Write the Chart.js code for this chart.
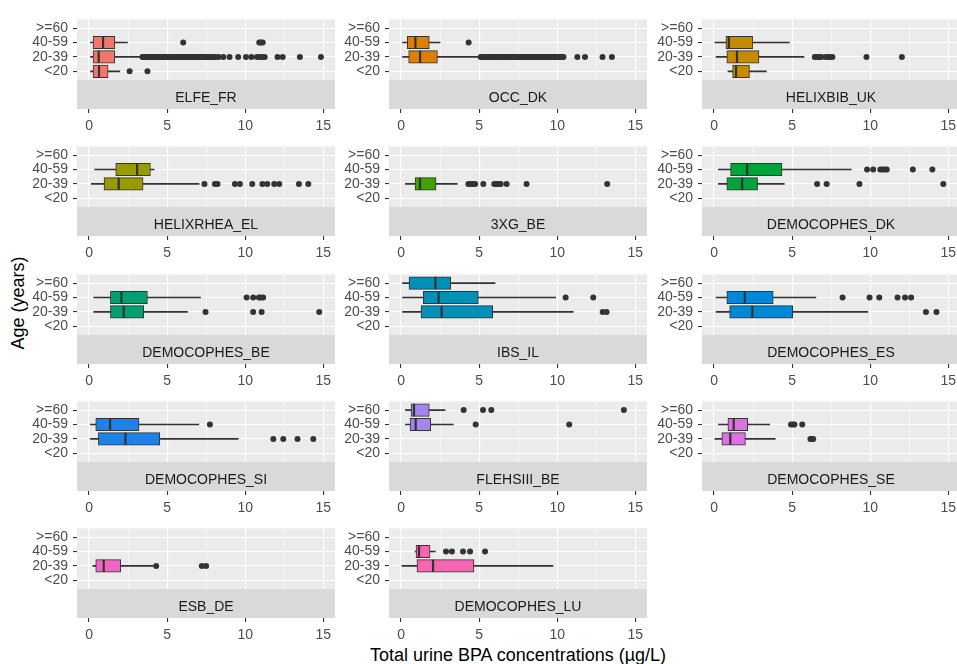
<!DOCTYPE html>
<html><head><meta charset="utf-8">
<script src="https://cdn.jsdelivr.net/npm/chart.js@4.4.0/dist/chart.umd.min.js"></script>
<style>
html,body{margin:0;padding:0;background:#fff;overflow:hidden;width:957px;height:664px;}
#wrap{position:relative;width:957px;height:664px;overflow:hidden;}
#wrap canvas{position:absolute;}
.ttl{position:absolute;font-family:'Liberation Sans',Arial,sans-serif;font-size:18px;color:#000;white-space:nowrap;}
#ytitle{left:18px;top:303px;transform:translate(-50%,-50%) rotate(-90deg);}
#xtitle{left:518px;top:655px;transform:translate(-50%,-50%);}
</style></head><body>
<div id="wrap">
<div class="ttl" id="ytitle">Age (years)</div>
<div class="ttl" id="xtitle">Total urine BPA concentrations (µg/L)</div>
</div>
<script>
// ---------------- data ----------------
const studies = ['ELFE_FR','OCC_DK','HELIXBIB_UK','HELIXRHEA_EL','3XG_BE','DEMOCOPHES_DK','DEMOCOPHES_BE','IBS_IL','DEMOCOPHES_ES','DEMOCOPHES_SI','FLEHSIII_BE','DEMOCOPHES_SE','ESB_DE','DEMOCOPHES_LU'];
const studyColors = ['#F4766A','#E07E00','#C48A00','#999A00','#42A300','#00A33C','#00A073','#0090B8','#0088D8','#1C82EA','#A385F2','#DE70E4','#F066C4','#F466B0'];
const ageGroups = ['<20','20-39','40-59','>=60'];
const xTicks = [0,2.5,5,7.5,10,12.5,15];
const xTickLabels = ['0','','5','','10','','15'];

const boxStudy = ['ELFE_FR','ELFE_FR','ELFE_FR','OCC_DK','OCC_DK','HELIXBIB_UK','HELIXBIB_UK','HELIXBIB_UK','HELIXRHEA_EL','HELIXRHEA_EL','3XG_BE','DEMOCOPHES_DK','DEMOCOPHES_DK','DEMOCOPHES_BE','DEMOCOPHES_BE','IBS_IL','IBS_IL','IBS_IL','DEMOCOPHES_ES','DEMOCOPHES_ES','DEMOCOPHES_SI','DEMOCOPHES_SI','FLEHSIII_BE','FLEHSIII_BE','DEMOCOPHES_SE','DEMOCOPHES_SE','ESB_DE','DEMOCOPHES_LU','DEMOCOPHES_LU'];
const boxAge = ['40-59','20-39','<20','40-59','20-39','40-59','20-39','<20','40-59','20-39','20-39','40-59','20-39','40-59','20-39','>=60','40-59','20-39','40-59','20-39','40-59','20-39','>=60','40-59','40-59','20-39','20-39','40-59','20-39'];
const whiskerLow  = [0.09,0.10,0.10,0.10,0.10,0.06,0.13,0.89,0.36,0.15,0.28,0.28,0.28,0.30,0.30,0.10,0.10,0.10,0.13,0.13,0.09,0.09,0.28,0.28,0.28,0.06,0.24,0.90,0.06];
const q1          = [0.26,0.26,0.26,0.40,0.49,0.76,0.82,1.19,1.71,0.96,0.90,1.06,0.82,1.37,1.37,0.51,1.43,1.28,0.82,1.00,0.43,0.60,0.64,0.58,0.89,0.50,0.43,0.96,1.02];
const median      = [0.90,0.62,0.64,0.92,1.22,0.95,1.47,1.41,3.08,1.90,1.22,2.12,1.80,2.07,2.22,2.20,2.41,2.60,1.97,2.45,1.35,2.33,0.83,0.94,1.26,1.04,0.94,1.15,2.05];
const q3          = [1.65,1.65,1.22,1.81,2.33,2.49,2.88,2.27,3.93,3.46,2.24,4.35,2.79,3.74,3.50,3.18,4.95,5.87,3.79,5.04,3.20,4.53,1.81,1.90,2.16,2.01,2.03,1.86,4.67];
const whiskerHigh = [2.46,3.35,1.97,2.50,5.06,4.83,5.76,3.35,4.17,7.05,3.60,8.79,4.50,7.14,6.30,6.02,9.90,11.03,6.52,9.85,7.03,9.55,2.82,3.35,3.57,3.92,4.10,2.20,9.73];
const outliers = [
  [6.03,10.9,11.0,11.12],
  [3.42,3.5,3.57,3.66,3.73,3.81,3.9,3.98,4.05,4.14,4.22,4.3,4.37,4.46,4.55,4.63,4.7,4.79,4.88,4.95,5.03,5.12,5.2,5.28,5.36,5.45,5.52,5.61,5.7,5.78,5.85,5.94,6.03,6.11,6.2,6.28,6.37,6.45,6.53,6.62,6.7,6.79,6.87,6.95,7.04,7.12,7.2,7.29,7.37,7.46,7.54,7.62,7.71,7.8,7.88,7.95,8.1,8.3,8.6,9.0,9.55,10.05,10.4,10.75,10.95,11.1,11.25,12.07,12.4,13.5,14.85],
  [2.6,3.74],
  [4.33],
  [5.1,5.18,5.27,5.35,5.44,5.52,5.6,5.69,5.78,5.86,5.95,6.03,6.12,6.2,6.29,6.38,6.46,6.55,6.63,6.72,6.8,6.89,6.98,7.06,7.15,7.23,7.32,7.4,7.49,7.58,7.66,7.75,7.83,7.92,8.0,8.09,8.18,8.26,8.35,8.43,8.52,8.6,8.69,8.78,8.86,8.95,9.03,9.12,9.2,9.29,9.38,9.46,9.55,9.63,9.72,9.8,9.89,9.98,10.06,10.15,10.23,10.32,10.4,11.29,11.78,12.9,13.5],
  [],
  [6.45,6.55,6.65,6.75,6.88,7.16,7.3,7.45,7.58,9.76,12.03],
  [],
  [],
  [7.39,8.06,8.23,9.34,9.66,10.45,11.1,11.41,11.86,12.18,13.44,14.04],
  [4.31,4.45,4.6,4.75,5.27,5.97,6.1,6.25,6.38,6.76,8.04,13.2],
  [9.8,10.19,10.65,10.8,10.95,11.06,12.73,13.98],
  [6.6,7.21,9.31,14.68],
  [10.09,10.51,10.88,11.0,11.15],
  [7.46,10.51,11.05,14.74],
  [],
  [10.54,12.31],
  [12.91,13.16],
  [8.23,9.96,10.58,11.75,12.23,12.62],
  [13.57,14.24],
  [7.74],
  [11.8,12.44,13.35,14.36],
  [4.01,5.25,5.78,14.27],
  [4.78,10.77],
  [4.93,5.05,5.15,5.65],
  [6.17,6.27,6.35],
  [4.3,7.22,7.5],
  [2.88,3.26,3.97,4.42,5.38],
  []
];

// ---------------- layout ----------------
const colPanelLeft = [77, 389, 702];
const rowPanelTop = [12, 139, 267, 394, 521];
const PANEL_W = 258, PANEL_H = 68, STRIP_H = 29, Y_W = 64, X_H = 28, PAD_T = 6, PAD_R = 14;
const XMIN = -0.77, XMAX = 15.75;
const FONT = "'Liberation Sans', Arial, sans-serif";
const TICK_FS = 14;
Chart.defaults.font.family = FONT;

const bgPlugin = {
  id: 'ggbg',
  beforeDraw(chart) {
    const ctx = chart.ctx, a = chart.chartArea, s = chart.scales.strip;
    ctx.save();
    ctx.fillStyle = '#EBEBEB';
    ctx.fillRect(a.left, a.top, a.right - a.left, a.bottom - a.top);
    ctx.fillStyle = '#D9D9D9';
    ctx.fillRect(s.left, s.top, s.right - s.left, s.bottom - s.top);
    ctx.restore();
  }
};

const wrap = document.getElementById('wrap');
studies.forEach((name, si) => {
  const row = Math.floor(si / 3), col = si % 3;
  const cv = document.createElement('canvas');
  cv.width = Y_W + PANEL_W + PAD_R;
  cv.height = PAD_T + PANEL_H + STRIP_H + X_H;
  cv.style.left = (colPanelLeft[col] - Y_W) + 'px';
  cv.style.top = (rowPanelTop[row] - PAD_T) + 'px';
  wrap.appendChild(cv);

  const idx = boxStudy.map((s, i) => s === name ? i : -1).filter(i => i >= 0);
  const yOf = a => ageGroups.indexOf(a) + 1;
  const whiskers = idx.map(i => ({ y: yOf(boxAge[i]), x: [whiskerLow[i], whiskerHigh[i]] }));
  const boxes = idx.map(i => ({ y: yOf(boxAge[i]), x: [q1[i], q3[i]] }));
  const meds = idx.map(i => ({ y: yOf(boxAge[i]), x: median[i] }));
  const outs = [];
  idx.forEach(i => outliers[i].forEach(v => outs.push({ y: yOf(boxAge[i]), x: v })));

  new Chart(cv, {
    type: 'bar',
    data: {
      datasets: [
        { type: 'bar', data: whiskers, order: 4, grouped: false, barThickness: 1, maxBarThickness: 1,
          backgroundColor: '#333333', borderWidth: 0, xAxisID: 'x', yAxisID: 'y' },
        { type: 'bar', data: boxes, order: 3, grouped: false, barThickness: 12.5, maxBarThickness: 12.5,
          backgroundColor: studyColors[si], borderColor: '#333333', borderWidth: 1, borderSkipped: false,
          xAxisID: 'x', yAxisID: 'y' },
        { type: 'scatter', data: meds, order: 2, pointStyle: 'line', rotation: 90, radius: 6.2,
          borderColor: '#333333', borderWidth: 2.2, xAxisID: 'x', yAxisID: 'y' },
        { type: 'scatter', data: outs, order: 1, pointStyle: 'circle', radius: 3,
          backgroundColor: '#333333', borderWidth: 0, xAxisID: 'x', yAxisID: 'y' }
      ]
    },
    options: {
      indexAxis: 'y',
      responsive: false,
      devicePixelRatio: 1,
      animation: false,
      events: [],
      layout: { autoPadding: false, padding: { top: PAD_T, right: PAD_R, left: 0, bottom: 0 } },
      plugins: { legend: { display: false }, tooltip: { enabled: false }, title: { display: false } },
      scales: {
        x: {
          type: 'linear', position: 'bottom', weight: 1, min: XMIN, max: XMAX,
          afterBuildTicks: s => { s.ticks = xTicks.map(v => ({ value: v })); },
          afterFit: s => { s.height = X_H; },
          ticks: { autoSkip: false, maxRotation: 0, minRotation: 0, padding: 5, color: '#4D4D4D',
                   font: { size: TICK_FS, family: FONT },
                   callback: (v) => xTickLabels[xTicks.indexOf(v)] },
          grid: { color: '#FFFFFF', drawTicks: true, tickLength: 4,
                  lineWidth: c => (c.tick && c.tick.value % 5 === 0) ? 1.1 : 0.55,
                  tickColor: c => (c.tick && c.tick.value % 5 === 0) ? '#333333' : 'rgba(0,0,0,0)',
                  tickWidth: 1.1 },
          border: { display: false }
        },
        strip: {
          type: 'linear', axis: 'x', position: 'bottom', weight: 0, min: 0, max: 1,
          afterFit: s => { s.height = STRIP_H; },
          ticks: { display: false },
          grid: { display: false, drawTicks: false },
          border: { display: false },
          title: { display: true, text: name, color: '#1A1A1A', font: { size: TICK_FS, family: FONT, lineHeight: 1 },
                   padding: { top: 0, bottom: 4.3 } }
        },
        y: {
          type: 'linear', position: 'left', min: 0.4, max: 4.6, offset: false,
          afterBuildTicks: s => { s.ticks = ageGroups.map((g, k) => ({ value: k + 1 })); },
          afterFit: s => { s.width = Y_W; },
          ticks: { autoSkip: false, padding: 5, color: '#4D4D4D', font: { size: TICK_FS, family: FONT },
                   callback: (v) => ageGroups[v - 1] },
          grid: { color: '#FFFFFF', lineWidth: 1.1, drawTicks: true, tickLength: 4, tickColor: '#333333', tickWidth: 1.1, offset: false },
          border: { display: false }
        }
      }
    },
    plugins: [bgPlugin]
  });
});
</script>
</body></html>
